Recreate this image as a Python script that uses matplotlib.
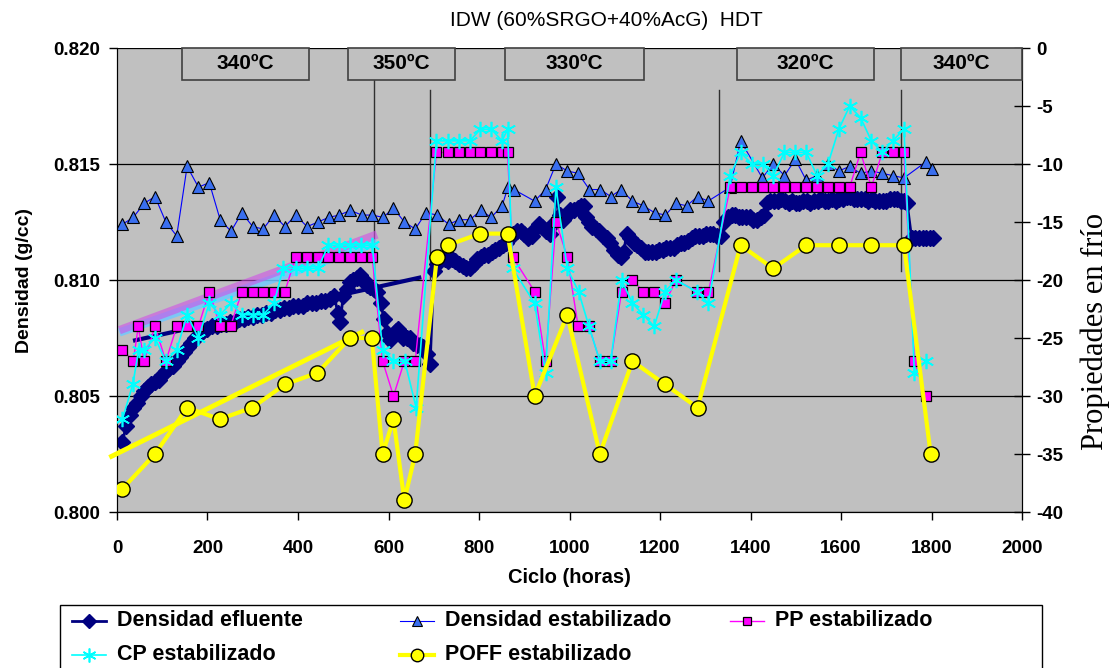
import matplotlib
matplotlib.use("Agg")
import matplotlib.pyplot as plt
import matplotlib.transforms as mtransforms
from matplotlib.patches import Rectangle
from matplotlib.lines import Line2D

plt.rcParams["font.family"] = ["Liberation Sans", "DejaVu Sans"]
plt.rcParams["axes.unicode_minus"] = False

# Densidad efluente (left axis, g/cc)
efl_h = [12, 20, 28, 36, 44, 52, 60, 68, 76, 84, 92, 100, 108, 116, 124, 132, 140, 148, 156, 164,
         172, 180, 190, 200, 210, 220, 230, 240, 250, 260, 270, 280, 290, 300, 310, 320, 330, 340,
         350, 360, 370, 380, 390, 400, 410, 420, 430, 440, 450, 460, 470, 480, 488, 493, 500, 508,
         515, 522, 530, 537, 545, 552, 559, 567, 575, 583, 590, 597, 603, 610, 616, 622, 628, 633,
         640, 647, 655, 662, 670, 677, 685, 692,
         700, 708, 716, 724, 732, 740, 748, 756, 764, 772, 780, 788, 796, 804, 812, 820, 828, 836,
         844, 852, 860, 868, 876, 884, 892, 900, 908, 916, 924, 932, 940, 948, 956, 964, 972, 978,
         986, 994, 1002, 1010, 1018, 1026, 1032, 1036, 1042, 1050, 1058, 1066, 1074, 1082, 1090,
         1098, 1106, 1114, 1120, 1126, 1134, 1142, 1150, 1158, 1166, 1174, 1182, 1190, 1198, 1206,
         1214, 1222, 1230, 1238, 1246, 1254, 1262, 1270, 1278, 1286, 1294, 1302, 1310, 1318, 1326,
         1334, 1342, 1350, 1358, 1366, 1374, 1382, 1390, 1398, 1406, 1414, 1422, 1430, 1436, 1444,
         1452, 1460, 1468, 1476, 1484, 1492, 1500, 1508, 1516, 1524, 1532, 1540, 1548, 1556, 1564,
         1572, 1580, 1588, 1596, 1604, 1612, 1620, 1628, 1636, 1644, 1652, 1660, 1668, 1676, 1684,
         1692, 1700, 1708, 1716, 1724, 1732, 1740, 1746, 1756, 1764, 1772, 1780, 1788, 1796, 1804]
efl_d = [0.8030, 0.8037, 0.8042, 0.8045, 0.8047, 0.8050, 0.8052, 0.8054, 0.8055, 0.8056, 0.8057,
         0.8059, 0.8061, 0.8062, 0.8063, 0.8065, 0.8067, 0.8069, 0.8071, 0.8073, 0.8075, 0.8076,
         0.8078, 0.8079, 0.8080, 0.8080, 0.8081, 0.8081, 0.8082, 0.8082, 0.8083, 0.8083, 0.8084,
         0.8084, 0.8085, 0.8085, 0.8086, 0.8086, 0.8087, 0.8087, 0.8088, 0.8088, 0.8089, 0.8089,
         0.8089, 0.8090, 0.8090, 0.8090, 0.8091, 0.8091, 0.8092, 0.8093, 0.8086, 0.8082, 0.8093,
         0.8096, 0.8099, 0.8100, 0.8101, 0.8102, 0.8100, 0.8098, 0.8097, 0.8096, 0.8095, 0.8090,
         0.8083, 0.8077, 0.8074, 0.8076, 0.8078, 0.8079, 0.8077, 0.8075, 0.8075, 0.8075, 0.8073,
         0.8072, 0.8072, 0.8071, 0.8068, 0.8064,
         0.8104, 0.8107, 0.8110, 0.8109, 0.8108, 0.8109, 0.8108, 0.8107, 0.8106, 0.8105, 0.8105,
         0.8107, 0.8109, 0.8110, 0.8111, 0.8111, 0.8112, 0.8113, 0.8114, 0.8115, 0.8116, 0.8118,
         0.8120, 0.8121, 0.8121, 0.8120, 0.8118, 0.8119, 0.8122, 0.8124, 0.8123, 0.8121, 0.8120,
         0.8124, 0.8136, 0.8128, 0.8126, 0.8128, 0.8130, 0.8130, 0.8131, 0.8132, 0.8132, 0.8127,
         0.8125, 0.8123, 0.8122, 0.8121, 0.8119, 0.8118, 0.8116, 0.8113, 0.8111, 0.8110, 0.8112,
         0.8120, 0.8118, 0.8116, 0.8115, 0.8114, 0.8112, 0.8112, 0.8112, 0.8112, 0.8113, 0.8113,
         0.8114, 0.8114, 0.8114, 0.8115, 0.8116, 0.8116, 0.8117, 0.8118, 0.8119, 0.8119, 0.8119,
         0.8120, 0.8120, 0.8120, 0.8119, 0.8119, 0.8125, 0.8127, 0.8128, 0.8128, 0.8127, 0.8127,
         0.8127, 0.8127, 0.8126, 0.8126, 0.8127, 0.8128, 0.8133, 0.8134, 0.8134, 0.8134, 0.8135,
         0.8134, 0.8133, 0.8134, 0.8133, 0.8133, 0.8134, 0.8134, 0.8133, 0.8134, 0.8134, 0.8135,
         0.8134, 0.8134, 0.8135, 0.8134, 0.8135, 0.8135, 0.8136, 0.8136, 0.8135, 0.8135, 0.8135,
         0.8135, 0.8134, 0.8135, 0.8134, 0.8134, 0.8134, 0.8134, 0.8135, 0.8135, 0.8135, 0.8134,
         0.8134, 0.8133, 0.8118, 0.8118, 0.8118, 0.8118, 0.8118, 0.8118, 0.8118]

# Densidad estabilizado (left axis)
est_h = [12, 36, 60, 84, 108, 132, 155, 180, 204, 228, 252, 276, 300, 323, 347, 371, 395, 420, 444,
         468, 491, 516, 541, 564, 588, 611, 635, 659, 683, 708, 733, 756, 780, 804, 827, 851, 864,
         877, 923, 947, 970, 995, 1019, 1044, 1068, 1091, 1114, 1139, 1163, 1188, 1212, 1235, 1259,
         1283, 1306, 1355, 1378, 1426, 1450, 1475, 1499, 1523, 1547, 1571, 1595, 1619, 1643, 1667,
         1691, 1714, 1739, 1788, 1800]
est_d = [0.8124, 0.8127, 0.8133, 0.8136, 0.8125, 0.8119, 0.8149, 0.8140, 0.8142, 0.8126, 0.8121,
         0.8129, 0.8123, 0.8122, 0.8128, 0.8123, 0.8128, 0.8123, 0.8125, 0.8127, 0.8128, 0.8130,
         0.8128, 0.8128, 0.8127, 0.8131, 0.8125, 0.8122, 0.8129, 0.8128, 0.8124, 0.8126, 0.8126,
         0.8130, 0.8127, 0.8132, 0.8140, 0.8139, 0.8134, 0.8139, 0.8150, 0.8147, 0.8146, 0.8139,
         0.8139, 0.8136, 0.8139, 0.8134, 0.8132, 0.8129, 0.8128, 0.8133, 0.8132, 0.8136, 0.8134,
         0.8140, 0.8160, 0.8144, 0.8150, 0.8145, 0.8152, 0.8143, 0.8145, 0.8150, 0.8147, 0.8149,
         0.8146, 0.8147, 0.8146, 0.8145, 0.8144, 0.8151, 0.8148]

# PP estabilizado (right axis, ºC)
pp_h = [12, 36, 47, 60, 84, 108, 132, 155, 180, 204, 228, 251, 276, 300, 323, 347, 371, 395, 420,
        444, 467, 491, 515, 539, 564, 587, 611, 635, 659, 706, 731, 755, 780, 803, 827, 851, 863,
        874, 923, 947, 970, 995, 1019, 1043, 1067, 1091, 1115, 1139, 1163, 1187, 1211, 1235, 1282,
        1307, 1355, 1378, 1403, 1427, 1450, 1475, 1499, 1523, 1547, 1571, 1595, 1619, 1643, 1667,
        1691, 1714, 1739, 1762, 1787]
pp_v = [-26, -27, -24, -27, -24, -27, -24, -24, -24, -21, -24, -24, -21, -21, -21, -21, -21, -18,
        -18, -18, -18, -18, -18, -18, -18, -27, -30, -27, -27, -9, -9, -9, -9, -9, -9, -9, -9,
        -18, -21, -27, -15, -18, -24, -24, -27, -27, -21, -20, -21, -21, -22, -20, -21,
        -21, -12, -12, -12, -12, -12, -12, -12, -12, -12, -12, -12, -12, -9, -12,
        -9, -9, -9, -27, -30]

# CP estabilizado (right axis)
cp_h = [12, 35, 48, 60, 84, 108, 132, 155, 180, 204, 228, 252, 276, 300, 323, 347, 367, 395, 420,
        444, 467, 491, 515, 539, 564, 587, 611, 636, 661, 706, 731, 755, 780, 803, 827, 851, 863,
        874, 923, 947, 970, 995, 1020, 1043, 1067, 1091, 1115, 1139, 1163, 1187, 1211, 1235, 1281,
        1307, 1355, 1378, 1403, 1427, 1450, 1475, 1499, 1523, 1547, 1571, 1595, 1619, 1643, 1667,
        1691, 1714, 1739, 1762, 1788]
cp_v = [-32, -29, -26, -26, -25, -27, -26, -23, -25, -22, -23, -22, -23, -23, -23, -22, -19, -19,
        -19, -19, -17, -17, -17, -17, -17, -26, -27, -27, -31, -8, -8, -8, -8, -7, -7, -8, -7,
        -19, -22, -28, -12, -19, -21, -24, -27, -27, -20, -22, -23, -24, -21, -20, -21,
        -22, -11, -9, -10, -10, -11, -9, -9, -9, -11, -10, -7, -5, -6, -8,
        -9, -8, -7, -28, -27]

# POFF estabilizado (right axis)
poff_h = [12, 84, 155, 227, 299, 371, 443, 515, 563, 587, 611, 635, 659, 707, 731, 802, 863, 923,
          995, 1067, 1139, 1211, 1283, 1378, 1450, 1523, 1595, 1667, 1739, 1798]
poff_v = [-38, -35, -31, -32, -31, -29, -28, -25, -25, -35, -32, -39, -35, -18, -17, -16, -16, -30,
          -23, -35, -27, -29, -31, -17, -19, -17, -17, -17, -17, -35]

# trend lines (start / end)
trend_efl_h = [40, 668]
trend_efl_d = [0.8074, 0.8101]
trend_cp_h = [14, 566]
trend_cp_v = [-24.4, -16.9]
trend_pp_h = [14, 566]
trend_pp_v = [-24.2, -16.2]
trend_poff_h = [-12, 541]
trend_poff_v = [-35.2, -24.5]

# temperature periods
temp_labels = ["340ºC", "350ºC", "330ºC", "320ºC", "340ºC"]
temp_start = [143, 511, 857, 1371, 1733]
temp_end = [424, 747, 1164, 1673, 2000]
period_x = [568, 692, 1330, 1733]
period_top = [0.8187, 0.8182, 0.8182, 0.8182]
period_bottom = [0.8097, 0.8100, 0.8104, 0.8104]

legend_labels = ["Densidad efluente", "Densidad estabilizado", "PP estabilizado",
                 "CP estabilizado", "POFF estabilizado"]

# series styles
st_efl = dict(color="#000080", marker="D", markersize=8, linewidth=2)
st_est = dict(color="#0000ff", linewidth=0.8, marker="^", markersize=9, markerfacecolor="#3a6fef",
              markeredgecolor="black", markeredgewidth=0.8)
st_pp = dict(color="#ff00ff", linewidth=1, marker="s", markersize=7.5, markerfacecolor="#ff00ff",
             markeredgecolor="black", markeredgewidth=0.9)
st_cp = dict(color="#00ffff", linewidth=1.2, marker=(6, 2, 0), markersize=11, markeredgewidth=1.2,
             markeredgecolor="#00ffff")
st_poff = dict(color="#ffff00", linewidth=3, marker="o", markersize=11, markerfacecolor="#ffff00",
               markeredgecolor="black", markeredgewidth=1)

fig = plt.figure(figsize=(11.14, 6.68), dpi=100)
ax = fig.add_axes([0.105, 0.2335, 0.8125, 0.6946])
ax2 = ax.twinx()

ax.set_facecolor("#c0c0c0")
ax.grid(axis="y", color="black", linewidth=0.9)
ax.set_axisbelow(True)

for x, y0, y1 in zip(period_x, period_bottom, period_top):
    ax.plot([x, x], [y0, y1], color="#303030", linewidth=1.0, zorder=2)

ax.plot(efl_h, efl_d, zorder=3, **st_efl)
ax.plot(trend_efl_h, trend_efl_d, color="#000080", linewidth=3, zorder=3.5)
ax.plot(est_h, est_d, zorder=4, **st_est)

ax2.plot(trend_cp_h, trend_cp_v, color="#70c8ff", linewidth=6, alpha=0.85, zorder=2)
ax2.plot(trend_pp_h, trend_pp_v, color="#d050e8", linewidth=6, alpha=0.6, zorder=2.1)
ax2.plot(pp_h, pp_v, zorder=3, **st_pp)
ax2.plot(cp_h, cp_v, zorder=4, **st_cp)
ax2.plot(trend_poff_h, trend_poff_v, color="#ffff00", linewidth=3.5, zorder=4.5, clip_on=False)
ax2.plot(poff_h, poff_v, zorder=5, **st_poff)

# temperature boxes at the top of the plot area
trans = mtransforms.blended_transform_factory(ax2.transData, ax2.transAxes)
for lab, x0, x1 in zip(temp_labels, temp_start, temp_end):
    ax2.add_patch(Rectangle((x0, 0.931), x1 - x0, 0.069, transform=trans, facecolor="#c0c0c0",
                            edgecolor="#404040", linewidth=1.2, zorder=6, clip_on=False))
    ax2.text((x0 + x1) / 2, 0.966, lab, transform=trans, ha="center", va="center",
             fontsize=15, fontweight="bold", zorder=7)

ax.set_xlim(0, 2000)
ax.set_ylim(0.800, 0.820)
ax2.set_ylim(-40, 0)
ax.set_xticks(range(0, 2001, 200))
ax.set_yticks([0.800, 0.805, 0.810, 0.815, 0.820])
ax.set_yticklabels(["%.3f" % v for v in [0.800, 0.805, 0.810, 0.815, 0.820]])
ax2.set_yticks(range(-40, 1, 5))

for a in (ax, ax2):
    for s in a.spines.values():
        s.set_color("black")
    a.spines["top"].set_visible(False)
    for t in a.get_xticklabels() + a.get_yticklabels():
        t.set_fontweight("bold")
        t.set_fontsize(13.5)

ax.tick_params(axis="y", direction="out", length=6, width=1, pad=6)
ax.tick_params(axis="x", direction="out", length=6, width=1, pad=14)
ax2.tick_params(axis="y", direction="inout", length=12, width=1, pad=4)

ax.set_xlabel("Ciclo (horas)", fontsize=14.5, fontweight="bold", labelpad=8)
ax.set_ylabel("Densidad (g/cc)", fontsize=14, fontweight="bold", labelpad=15)
ax2.set_ylabel("Propiedades en frío", fontsize=22, family=["Liberation Serif", "DejaVu Serif"])
ax2.yaxis.set_label_coords(1.065, 0.39)

fig.text(0.544, 0.970, "IDW (60%SRGO+40%AcG)  HDT", ha="center", va="center", fontsize=15)

# legend box under the chart, laid out like the original (3 columns, 2 rows)
W, H = 1114.0, 668.0
fig.add_artist(Rectangle((60 / W, 1 - 700 / H), (1042 - 60) / W, (700 - 605) / H,
                         transform=fig.transFigure, facecolor="white", edgecolor="black",
                         linewidth=1.0, clip_on=False))
leg_styles = [st_efl, st_est, st_pp, st_cp, st_poff]
leg_col_x = [72, 400, 730, 72, 400]
leg_row_y = [621, 621, 621, 655, 655]
leg_msize = [7, 7, 6, 10, 9]
for lab, st, cx, cy, ms in zip(legend_labels, leg_styles, leg_col_x, leg_row_y, leg_msize):
    x0, x1, yy = cx / W, (cx + 34) / W, 1 - cy / H
    line_st = {k: v for k, v in st.items() if k in ("color", "linewidth")}
    fig.add_artist(Line2D([x0, x1], [yy, yy], transform=fig.transFigure, **line_st))
    mk_st = {k: v for k, v in st.items() if k not in ("linewidth", "markersize")}
    fig.add_artist(Line2D([(x0 + x1) / 2], [yy], transform=fig.transFigure, linestyle="none",
                          markersize=ms, **mk_st))
    fig.text((cx + 45) / W, yy, lab, ha="left", va="center", fontsize=15.5, fontweight="bold")

fig.savefig("out.png", dpi=100)
